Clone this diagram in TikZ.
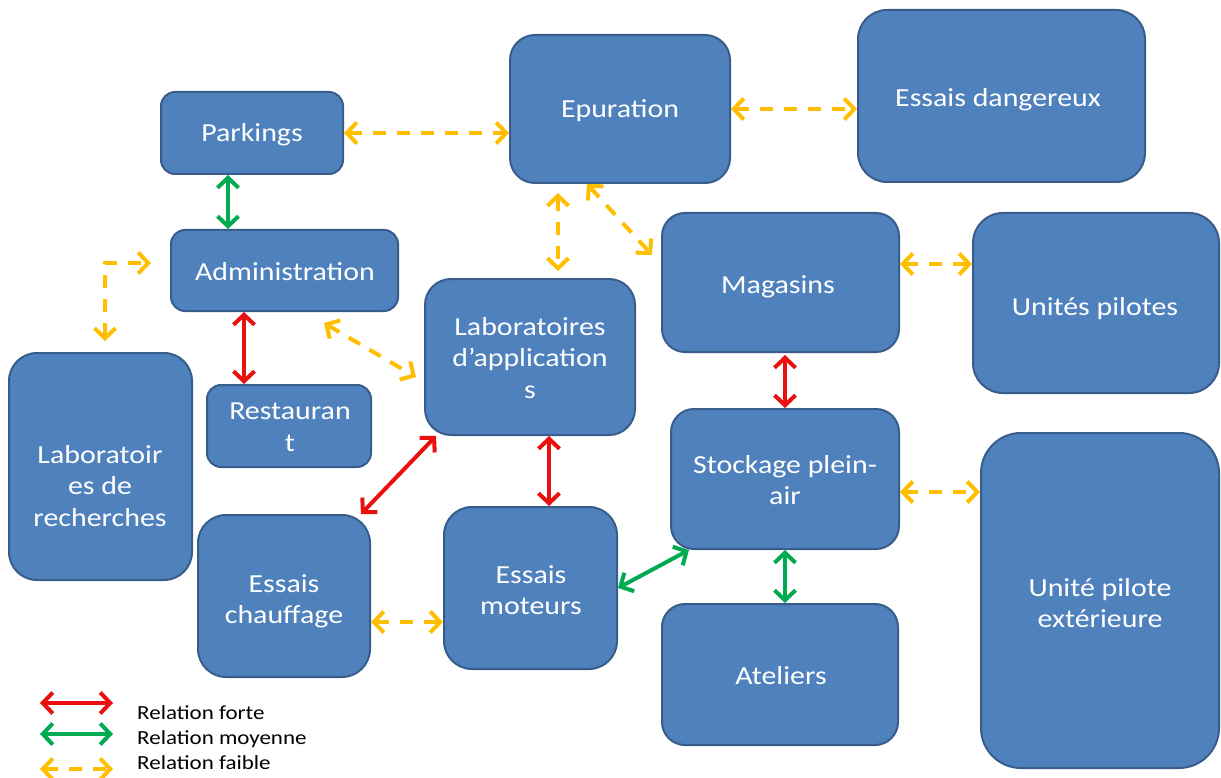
\documentclass[tikz,border=0pt]{standalone}
\usepackage{fontspec}
\setmainfont{Carlito}[FakeStretch=1.15]
\usetikzlibrary{arrows.meta,calc}

\definecolor{boxfill}{RGB}{79,129,189}
\definecolor{boxline}{RGB}{56,93,138}
\definecolor{relred}{RGB}{235,16,16}
\definecolor{relgreen}{RGB}{0,170,80}
\definecolor{relyellow}{RGB}{255,190,0}

\tikzset{
  unit/.style={draw=boxline, line width=2pt, fill=boxfill, inner sep=0pt},
  % the base anchor of a multi-line label is the baseline of its last line
  lbl/.style={text=white, font=\fontsize{26}{31.5}\selectfont, align=center,
              anchor=base, inner sep=0pt},
  link/.style={line width=4pt,
               {Straight Barb[length=10pt,width=21pt]}-{Straight Barb[length=10pt,width=21pt]}},
  strong/.style={link, draw=relred},
  medium/.style={link, draw=relgreen},
  weak/.style={link, draw=relyellow, dash pattern=on 13pt off 11pt},
  keytext/.style={font=\fontsize{20}{24}\selectfont, anchor=base west, inner sep=0pt}
}

\begin{document}
\begin{tikzpicture}[x=1pt, y=-1pt]
\useasboundingbox (0,0) rectangle (1221,778);

% ---- units of the site ----
\node[unit, minimum width=182pt, minimum height=82pt,  rounded corners=14pt] (park)  at (252,133)    {};
\node[unit, minimum width=227pt, minimum height=81pt,  rounded corners=14pt] (admin) at (284.5,270.5) {};
\node[unit, minimum width=164pt, minimum height=82pt,  rounded corners=14pt] (resto) at (289,426)    {};
\node[unit, minimum width=183pt, minimum height=227pt, rounded corners=28pt] (labr)  at (100.5,466.5) {};
\node[unit, minimum width=210pt, minimum height=156pt, rounded corners=26pt] (laba)  at (530,357)    {};
\node[unit, minimum width=220pt, minimum height=148pt, rounded corners=25pt] (epur)  at (620,109)    {};
\node[unit, minimum width=287pt, minimum height=172pt, rounded corners=29pt] (essd)  at (1001.5,96)  {};
\node[unit, minimum width=237pt, minimum height=139pt, rounded corners=23pt] (maga)  at (780.5,282.5) {};
\node[unit, minimum width=246pt, minimum height=180pt, rounded corners=30pt] (unip)  at (1096,303)   {};
\node[unit, minimum width=238pt, minimum height=335pt, rounded corners=40pt] (upe)   at (1100,600.5) {};
\node[unit, minimum width=228pt, minimum height=140pt, rounded corners=23pt] (stock) at (785,479)    {};
\node[unit, minimum width=172pt, minimum height=162pt, rounded corners=28pt] (essc)  at (284,596)    {};
\node[unit, minimum width=173pt, minimum height=162pt, rounded corners=28pt] (essm)  at (530.5,588)  {};
\node[unit, minimum width=236pt, minimum height=141pt, rounded corners=23pt] (atel)  at (780,674.5)  {};

% ---- labels ----
\node[lbl] (park-t)  at (252,142)    {Parkings};
\node[lbl] (admin-t) at (285,280)    {Administration};
\node[lbl] (resto-t) at (290,451)    {Restauran\\t};
\node[lbl] (labr-t)  at (100,526)    {Laboratoir\\es de\\recherches};
\node[lbl] (laba-t)  at (530,398)    {Laboratoires\\d’application\\s};
\node[lbl] (epur-t)  at (620,118)    {Epuration};
\node[lbl] (essd-t)  at (998,107)    {Essais dangereux};
\node[lbl] (maga-t)  at (778,293)    {Magasins};
\node[lbl] (unip-t)  at (1095,315)   {Unités pilotes};
\node[lbl] (upe-t)   at (1100,627.5) {Unité pilote\\extérieure};
\node[lbl] (stock-t) at (785,504.5)  {Stockage plein-\\air};
\node[lbl] (essc-t)  at (284,623.5)  {Essais\\chauffage};
\node[lbl] (essm-t)  at (531,614.5)  {Essais\\moteurs};
\node[lbl] (atel-t)  at (781,684)    {Ateliers};

% ---- relations ----
\draw[weak]   (park.east) -- ([yshift=-24pt]epur.west);
\draw[weak]   (epur.east) -- ([yshift=-13pt]essd.west);
\draw[medium] ([xshift=-24pt]park.south) -- ([xshift=-56.5pt]admin.north);
\draw[weak]   ([xshift=4.5pt,yshift=11pt]labr.north) |- ([xshift=-19pt,yshift=7.5pt]admin.west);
\draw[strong] ([xshift=-40.5pt]admin.south) -- ([xshift=-45pt]resto.north);
\draw[weak]   ([xshift=-75pt,yshift=-11pt]admin.south east) -- ([xshift=-8pt,yshift=-20pt]laba.west);
\draw[weak]   ([xshift=-62pt,yshift=-9pt]epur.south) -- ([xshift=28pt,yshift=7pt]laba.north);
\draw[weak]   ([xshift=-33pt]epur.south) -- ([xshift=-9pt,yshift=27.5pt]maga.west);
\draw[weak]   ([yshift=18.5pt]maga.east) -- ([yshift=39pt]unip.west);
\draw[strong] ([xshift=4.5pt,yshift=-2pt]maga.south) -- (stock.north);
\draw[medium] (stock.south) -- ([xshift=5pt]atel.north);
\draw[weak]   ([yshift=-13pt]stock.east) -- ([yshift=108.5pt]upe.west);
\draw[medium] ([xshift=19pt]stock.south west) -- (essm.east);
\draw[strong] ([xshift=19pt]laba.south) -- ([xshift=18.5pt]essm.north);
\draw[strong] ([xshift=12pt]laba.south west) -- ([xshift=-10pt]essc.north east);
\draw[weak]   ([yshift=-26pt]essc.east) -- ([yshift=-34pt]essm.west);

% ---- key ----
\coordinate (kr1) at (40,703); \coordinate (kr2) at (113,703);
\coordinate (kg1) at (40,734); \coordinate (kg2) at (113,734);
\coordinate (ky1) at (40,769); \coordinate (ky2) at (113,769);
\draw[strong] (kr1) -- (kr2);
\draw[medium] (kg1) -- (kg2);
\draw[weak]   (ky1) -- (ky2);
\node[keytext] (kr-t) at (137,719) {Relation forte};
\node[keytext] (kg-t) at (137,744) {Relation moyenne};
\node[keytext] (ky-t) at (137,769) {Relation faible};
\end{tikzpicture}
\end{document}
